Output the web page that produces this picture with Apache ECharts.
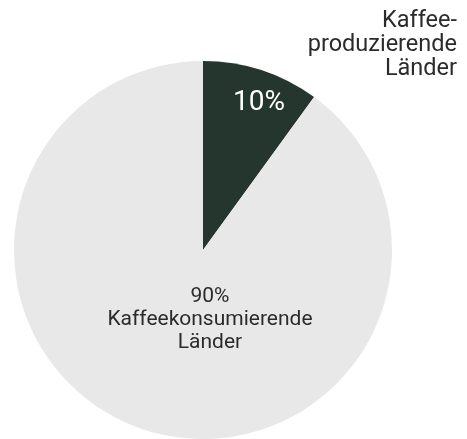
<!DOCTYPE html>
<html><head><meta charset="utf-8">
<script src="https://cdn.jsdelivr.net/npm/echarts@6/dist/echarts.min.js"></script>
<style>html,body{margin:0;padding:0;background:#fff;}#c{width:467px;height:439px;}</style>
</head><body><div id="c"></div>
<script>
const categories = ['Kaffeeproduzierende Länder', 'Kaffeekonsumierende Länder'];
const values = [10, 90];
const colors = ['#25362e', '#e8e8e8'];
const producerLines = ['Kaffee-', 'produzierende', 'Länder'];
const consumerLines = ['Kaffeekonsumierende', 'Länder'];

const total = values.reduce((a, b) => a + b, 0);
const pct = values.map(v => Math.round(v / total * 100) + '%');
const FONT = 'Roboto';

const chart = echarts.init(document.getElementById('c'));
chart.setOption({
  animation: false,
  series: [{
    type: 'pie',
    center: [203, 250],
    radius: [0, 189],
    startAngle: 90,
    clockwise: true,
    silent: true,
    label: { show: false },
    labelLine: { show: false },
    itemStyle: { borderWidth: 0 },
    data: categories.map((c, i) => ({ name: c, value: values[i], itemStyle: { color: colors[i] } }))
  }],
  graphic: [
    { type: 'text', x: 457, y: 45.5, z: 100, silent: true,
      style: { text: producerLines.join('\n'), align: 'right', verticalAlign: 'middle', fill: '#2b2b2b', font: '23.5px ' + FONT, lineHeight: 24 } },
    { type: 'text', x: 259, y: 102.5, z: 100, silent: true,
      style: { text: pct[0], align: 'center', verticalAlign: 'middle', fill: '#ffffff', font: '28px ' + FONT } },
    { type: 'text', x: 210, y: 319.5, z: 100, silent: true,
      style: { text: [pct[1]].concat(consumerLines).join('\n'), align: 'center', verticalAlign: 'middle', fill: '#2b2b2b', font: '21px ' + FONT, lineHeight: 23 } }
  ]
});
</script></body></html>
